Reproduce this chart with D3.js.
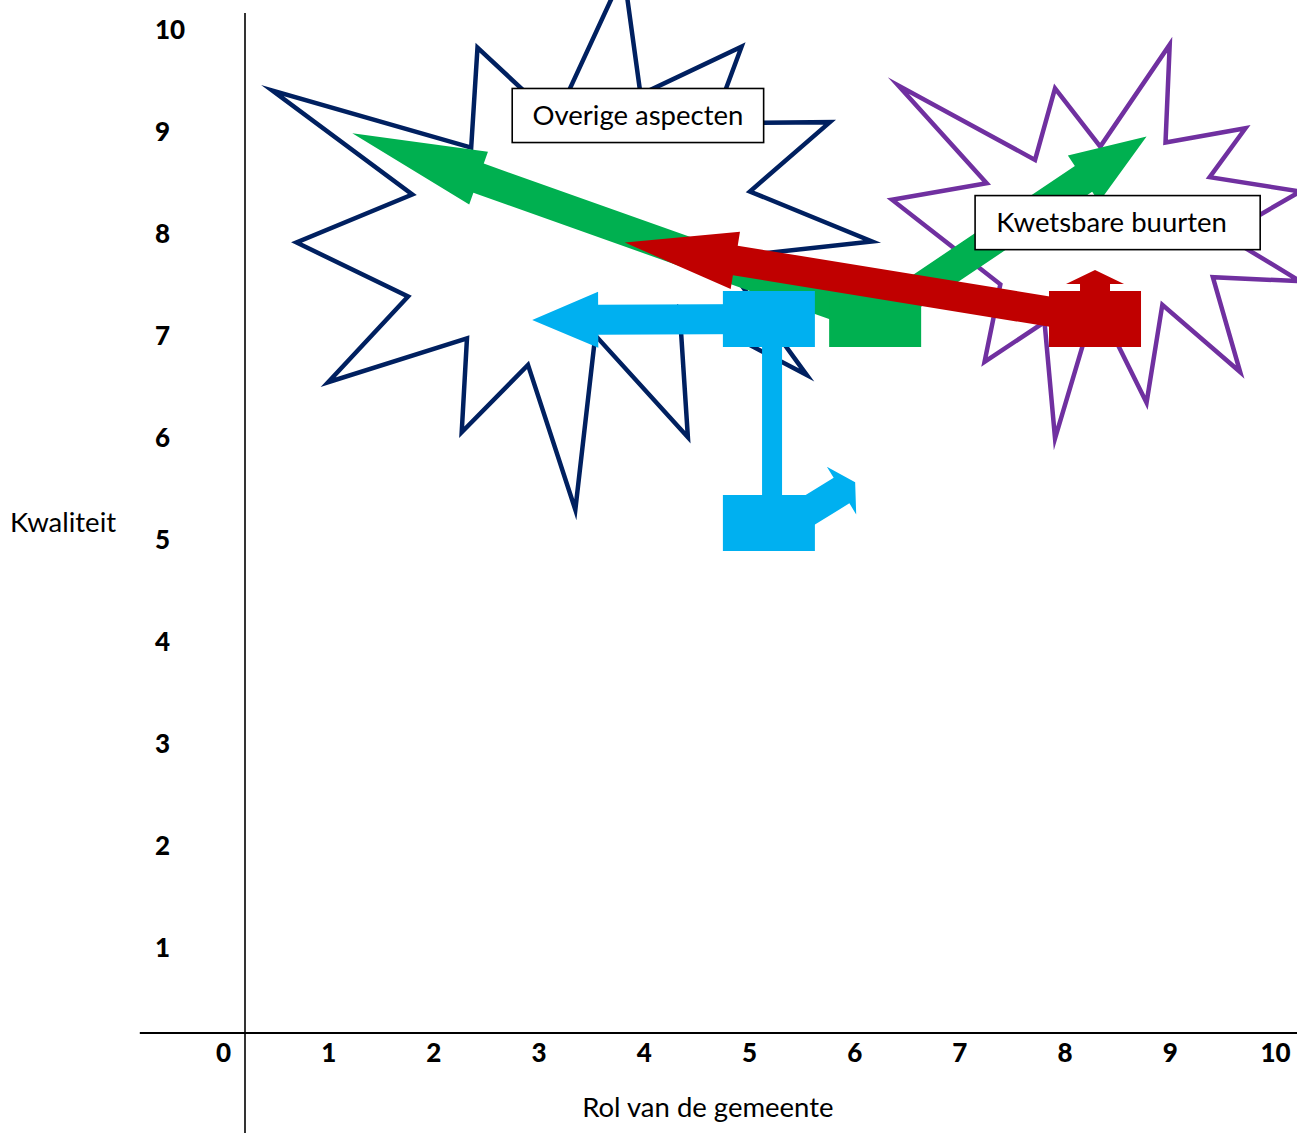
<!DOCTYPE html>
<html><head><meta charset="utf-8">
<script src="https://cdn.jsdelivr.net/npm/d3@7"></script>
<style>
body{margin:0;background:#fff;}
svg{display:block;}
text{font-family:Lato,"Open Sans","Noto Sans",sans-serif;}
</style>
</head><body>
<svg id="chart" width="1297" height="1133"></svg>
<script>
// ---------- data ----------
const xTickValues = [0,1,2,3,4,5,6,7,8,9,10];
const yTickValues = [1,2,3,4,5,6,7,8,9,10];
const xTitle = "Rol van de gemeente";
const yTitle = "Kwaliteit";

// star outlines (data units: rol, kwaliteit)
const starOverige = [[3.60,10.40],[3.76,9.20],[4.72,9.67],[4.45,8.92],[5.56,8.93],[4.80,8.25],[5.96,7.76],[4.53,7.60],
  [5.34,6.45],[4.13,7.11],[4.21,5.84],[3.33,6.84],[3.14,5.13],[2.69,6.55],[2.06,5.89],[2.11,6.81],
  [0.79,6.38],[1.55,7.22],[0.49,7.75],[1.59,8.22],[0.26,9.24],[2.15,8.68],[2.21,9.66],[2.95,8.95]];
const starKwetsbaar = [[6.15,8.17],[7.05,8.33],[6.21,9.29],[7.51,8.56],[7.70,9.26],[8.13,8.69],[8.79,9.69],[8.75,8.73],
  [9.51,8.87],[9.17,8.39],[10.03,8.25],[9.31,7.82],[10.03,7.37],[9.20,7.41],[9.46,6.48],[8.72,7.14],
  [8.57,6.18],[8.09,7.18],[7.70,5.83],[7.60,6.97],[7.03,6.58],[7.18,7.34]];
const starNames = ["Overige aspecten","Kwetsbare buurten"];

// current positions (blocks)
const blockNames = ["groen","rood","blauw boven","blauw onder"];
const blockX = [5.99,8.08,4.98,4.98];
const blockY = [7.00,7.00,7.00,5.00];

// movement arrows
const arrowNames = ["groen links","groen rechts","rood links","rood omhoog","blauw links","blauw verbinding","blauw rechts"];
const arrowFromX = [5.99,5.99,8.08,8.08,4.98,5.01,4.98];
const arrowFromY = [7.00,7.00,7.00,7.00,7.00,7.00,4.88];
const arrowToX   = [1.02,8.57,3.61,8.08,2.73,5.01,5.80];
const arrowToY   = [8.82,8.79,7.75,7.48,6.99,5.00,5.40];

// ---------- styles / layout ----------
const colors = {groen:"#00B050", rood:"#C00000", blauw:"#00B0F0", navy:"#002060", paars:"#7030A0"};
const blockColor = ["groen","rood","blauw","blauw"];
const arrowStyle = [
  {c:"groen", w:31, hl:134, hw:28},
  {c:"groen", w:31, hl:76,  hw:28},
  {c:"rood",  w:30, hl:112, hw:29},
  {c:"rood",  w:30, hl:14,  hw:29},
  {c:"blauw", w:30, hl:66,  hw:28},
  {c:"blauw", w:20, hl:0,   hw:10},
  {c:"blauw", w:30, hl:16,  hw:28}
];
const blockW = 92, blockH = 56;
const starStroke = [colors.navy, colors.paars];
const labelBoxes = [ // x0,x1,y0,y1 in data units
  [2.54,4.93,9.26,8.73],
  [6.94,9.65,8.21,7.68]
];
const labelShift = [0,-6];

// ---------- drawing ----------
const svg = d3.select("#chart");
const W = 1297, H = 1133;
const x = d3.scaleLinear().domain([0,10]).range([245,1297]);
const y = d3.scaleLinear().domain([0,10]).range([1033,13]);

// axes lines
svg.append("line").attr("x1",x(-1)).attr("x2",x(10)).attr("y1",y(0)).attr("y2",y(0))
  .attr("stroke","#000").attr("stroke-width",2);
svg.append("line").attr("x1",x(0)).attr("x2",x(0)).attr("y1",y(10)).attr("y2",H)
  .attr("stroke","#000").attr("stroke-width",1.6);

// x tick labels (d3 axis, no domain/ticks)
const gx = svg.append("g").attr("transform",`translate(-22,${y(0)})`)
  .call(d3.axisBottom(x).tickValues(xTickValues).tickSize(0).tickPadding(11).tickFormat(d3.format("d")));
gx.select(".domain").remove();
gx.selectAll("text").attr("font-family","Lato, sans-serif").attr("font-size",26).attr("font-weight",900).attr("fill","#000");

// y tick labels
svg.append("g").selectAll("text").data(yTickValues).join("text")
  .attr("x",155).attr("y",d=>y(d)+26)
  .attr("font-size",26).attr("font-weight",900).attr("fill","#000")
  .text(d=>d);

// axis titles
svg.append("text").attr("x",x(4.4)).attr("y",y(0)+84).attr("text-anchor","middle")
  .attr("font-size",27.5).attr("fill","#000").text(xTitle);
svg.append("text").attr("x",10).attr("y",y(4.97)+6).attr("font-size",27.5).attr("fill","#000").text(yTitle);

// stars
const starLine = d3.line().x(d=>x(d[0])).y(d=>y(d[1])).curve(d3.curveLinearClosed);
[starOverige, starKwetsbaar].forEach((pts,i)=>{
  svg.append("path").attr("d",starLine(pts)).attr("fill","#fff")
    .attr("stroke",starStroke[i]).attr("stroke-width",4.5).attr("stroke-linejoin","miter").attr("stroke-miterlimit",20);
});

// arrow polygon
function arrowPts(sx,sy,tx,ty,st){
  const dx=tx-sx, dy=ty-sy, L=Math.hypot(dx,dy);
  const ux=dx/L, uy=dy/L, nx=-uy, ny=ux;
  const bx=tx-ux*st.hl, by=ty-uy*st.hl, h=st.w/2;
  if(st.hl===0){
    return [[sx+nx*h,sy+ny*h],[tx+nx*h,ty+ny*h],[tx-nx*h,ty-ny*h],[sx-nx*h,sy-ny*h]];
  }
  return [[sx+nx*h,sy+ny*h],[bx+nx*h,by+ny*h],[bx+nx*st.hw,by+ny*st.hw],[tx,ty],
          [bx-nx*st.hw,by-ny*st.hw],[bx-nx*h,by-ny*h],[sx-nx*h,sy-ny*h]];
}
function drawArrow(i){
  const st=arrowStyle[i];
  const p=arrowPts(x(arrowFromX[i]),y(arrowFromY[i]),x(arrowToX[i]),y(arrowToY[i]),st);
  svg.append("polygon").attr("points",p.map(q=>q.join(",")).join(" ")).attr("fill",colors[st.c]);
}
function drawBlock(i){
  svg.append("rect").attr("x",x(blockX[i])-blockW/2).attr("y",y(blockY[i])-blockH/2)
    .attr("width",blockW).attr("height",blockH).attr("fill",colors[blockColor[i]]);
}
// green
drawArrow(0); drawArrow(1); drawBlock(0);
// red
drawArrow(2); drawArrow(3); drawBlock(1);
// blue
drawArrow(4); drawArrow(5); drawArrow(6); drawBlock(2); drawBlock(3);

// label boxes
labelBoxes.forEach((b,i)=>{
  const x0=x(b[0]), x1=x(b[1]), y0=y(b[2]), y1=y(b[3]);
  svg.append("rect").attr("x",x0).attr("y",y0).attr("width",x1-x0).attr("height",y1-y0)
    .attr("fill","#fff").attr("stroke","#000").attr("stroke-width",1.6);
  svg.append("text").attr("x",(x0+x1)/2+labelShift[i]).attr("y",(y0+y1)/2+9).attr("text-anchor","middle")
    .attr("font-size",27.5).attr("fill","#000").text(starNames[i]);
});
</script>
</body></html>
